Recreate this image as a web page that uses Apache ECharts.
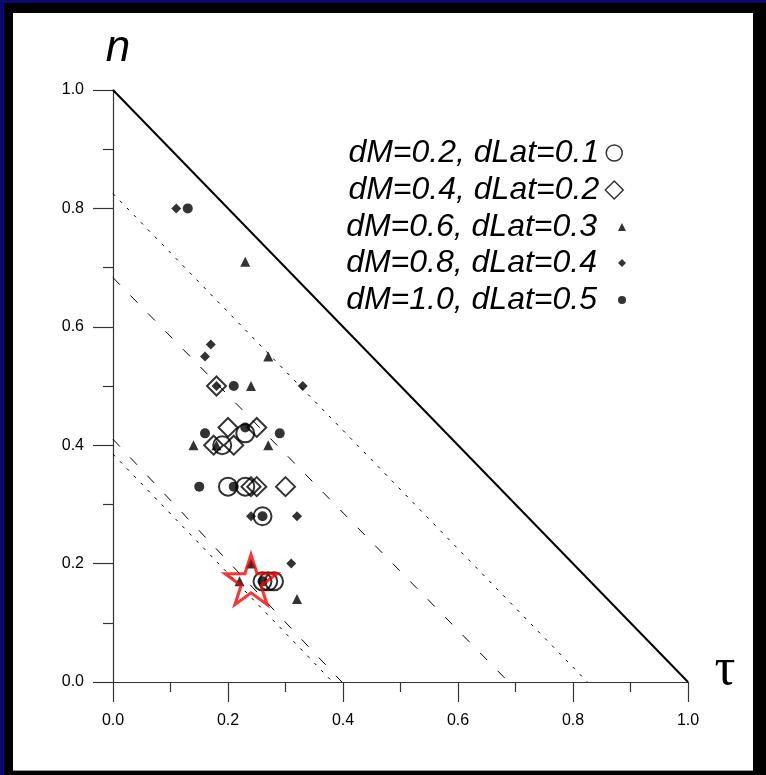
<!DOCTYPE html>
<html>
<head>
<meta charset="utf-8">
<script src="https://cdn.jsdelivr.net/npm/echarts@6/dist/echarts.min.js"></script>
<style>
  html, body { margin: 0; padding: 0; background: #000; }
  #navyL { position: absolute; left: 0; top: 0; width: 4px; height: 775px; background: #0a0a6e; }
  #navyT { position: absolute; left: 0; top: 0; width: 766px; height: 3px; background: #0a0a6e; }
  #white { position: absolute; left: 13px; top: 13px; width: 740px; height: 757px; background: #fff; border-bottom: 1px solid #999; }
  #chart { position: absolute; left: 0; top: 0; width: 766px; height: 775px; }
</style>
</head>
<body>
<div id="navyL"></div>
<div id="navyT"></div>
<div id="white"></div>
<div id="chart"></div>
<script>
// ---- data ----
const seriesNames = ['dM=0.2, dLat=0.1', 'dM=0.4, dLat=0.2', 'dM=0.6, dLat=0.3', 'dM=0.8, dLat=0.4', 'dM=1.0, dLat=0.5'];
const openCircles  = [[0.23,0.42],[0.19,0.40],[0.20,0.33],[0.23,0.33],[0.26,0.28],[0.26,0.17],[0.27,0.17],[0.28,0.17]];
const openDiamonds = [[0.18,0.50],[0.20,0.43],[0.25,0.43],[0.175,0.40],[0.21,0.40],[0.24,0.33],[0.25,0.33],[0.30,0.33]];
const triangles    = [[0.23,0.71],[0.27,0.55],[0.24,0.50],[0.14,0.40],[0.18,0.40],[0.27,0.40],[0.24,0.20],[0.22,0.17],[0.32,0.14]];
const diamonds     = [[0.11,0.80],[0.17,0.57],[0.16,0.55],[0.18,0.50],[0.33,0.50],[0.24,0.28],[0.32,0.28],[0.31,0.20]];
const dots         = [[0.13,0.80],[0.21,0.50],[0.16,0.42],[0.23,0.43],[0.29,0.42],[0.15,0.33],[0.21,0.33],[0.26,0.28],[0.26,0.17]];
const starPoint    = [[0.24,0.173]];
const solidLine    = [[0,1],[1,0]];
const dottedUpper  = [[0,0.825],[0.825,0]];
const dashedUpper  = [[0,0.683],[0.688,0]];
const dashedLower  = [[0,0.41],[0.398,0]];
const dottedLower  = [[0,0.385],[0.382,0]];
const axisTicks    = [0, 0.2, 0.4, 0.6, 0.8, 1.0];

const starPath = 'path://M100,0 L122.45,69.1 L195.1,69.1 L136.3,111.8 L158.8,180.9 L100,138.2 L41.2,180.9 L63.7,111.8 L4.9,69.1 L77.55,69.1 Z';

const chart = echarts.init(document.getElementById('chart'), null, { renderer: 'canvas' });

function axisCommon(marginPx) {
  return {
    type: 'value', min: axisTicks[0], max: axisTicks[axisTicks.length - 1], interval: axisTicks[1] - axisTicks[0],
    splitLine: { show: false },
    axisLine: { show: true, onZero: false, lineStyle: { color: '#333', width: 1.2 } },
    axisTick: { show: true, inside: false, length: 20, lineStyle: { color: '#333', width: 1.2 } },
    minorTick: { show: true, splitNumber: 2, length: 10, lineStyle: { color: '#333', width: 1.2 } },
    axisLabel: { margin: marginPx, fontSize: 16, color: '#000', fontFamily: 'Arial, "Liberation Sans"', formatter: v => v.toFixed(1) }
  };
}

function refLine(data, type, width) {
  return {
    type: 'line', data: data, symbol: 'none', silent: true, z: 1,
    lineStyle: { color: '#000', width: width, type: type }
  };
}

function legendFor(name, top, right, w, h, padRight) {
  return {
    data: [name], top: top, right: right, orient: 'horizontal', align: 'right',
    padding: 0, itemGap: 0, itemWidth: w, itemHeight: h, selectedMode: false,
    itemStyle: { borderWidth: 1.5 },
    textStyle: { fontSize: 32, fontStyle: 'italic', fontFamily: 'Arial, "Liberation Sans"', color: '#000', padding: [0, padRight, 0, 0] }
  };
}

const hollow = { color: 'rgba(0,0,0,0)', borderColor: '#000', borderWidth: 2 };

chart.setOption({
  animation: false,
  backgroundColor: 'transparent',
  grid: { left: 113, right: 78, top: 90, bottom: 93, containLabel: false },
  xAxis: axisCommon(31),
  yAxis: axisCommon(29),
  legend: [
    legendFor(seriesNames[0], 137, 143, 16, 16, 2),
    legendFor(seriesNames[1], 174, 142, 18, 18, 1),
    legendFor(seriesNames[2], 211, 140, 8, 8, 16),
    legendFor(seriesNames[3], 247, 140, 8, 8, 16),
    legendFor(seriesNames[4], 284, 140, 8, 8, 16)
  ],
  graphic: [
    { type: 'text', left: null, x: 118, y: 49, silent: true,
      style: { text: 'n', font: 'italic 44px Arial, "Liberation Sans"', fill: '#000', textAlign: 'center', textVerticalAlign: 'middle' } },
    { type: 'text', x: 725, y: 670, silent: true,
      style: { text: 'τ', font: '52px "Liberation Serif", "Times New Roman", serif', fill: '#000', textAlign: 'center', textVerticalAlign: 'middle' } }
  ],
  series: [
    refLine(solidLine, 'solid', 2),
    refLine(dottedUpper, [3, 7], 1),
    refLine(dashedUpper, [10, 15], 1),
    refLine(dashedLower, [10, 15], 1),
    refLine(dottedLower, [3, 7], 1),
    { name: seriesNames[0], type: 'scatter', data: openCircles, symbol: 'circle', symbolSize: 18, itemStyle: hollow, z: 3 },
    { name: seriesNames[1], type: 'scatter', data: openDiamonds, symbol: 'diamond', symbolSize: 19, itemStyle: hollow, z: 3 },
    { name: seriesNames[2], type: 'scatter', data: triangles, symbol: 'triangle', symbolSize: 10, itemStyle: { color: '#000' }, z: 4 },
    { name: seriesNames[3], type: 'scatter', data: diamonds, symbol: 'diamond', symbolSize: 10, itemStyle: { color: '#000' }, z: 4 },
    { name: seriesNames[4], type: 'scatter', data: dots, symbol: 'circle', symbolSize: 10, itemStyle: { color: '#000' }, z: 4 },
    { name: 'star', type: 'scatter', data: starPoint, symbol: starPath, symbolSize: [52, 50],
      itemStyle: { color: 'rgba(0,0,0,0)', borderColor: '#ff0000', borderWidth: 3 }, z: 5 }
  ]
});
</script>
</body>
</html>
